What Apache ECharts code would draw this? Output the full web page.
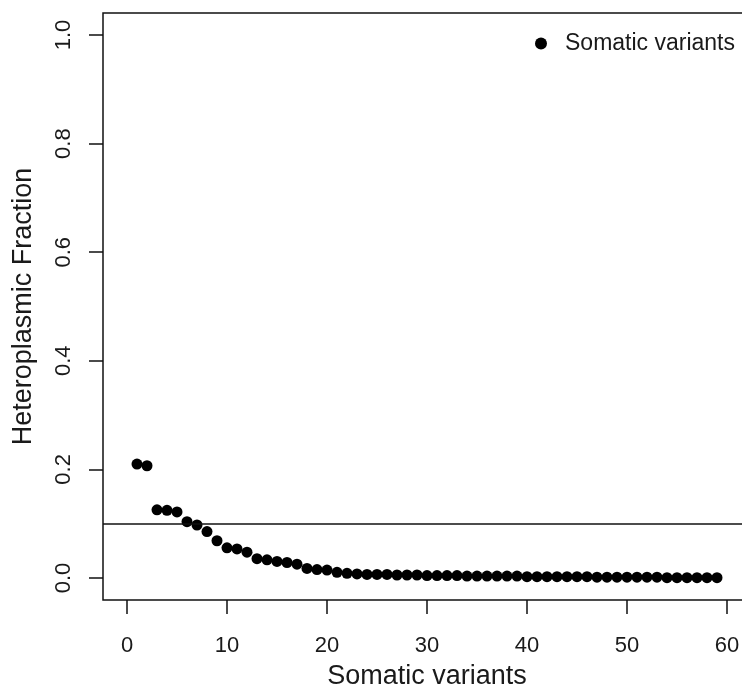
<!DOCTYPE html>
<html>
<head>
<meta charset="utf-8">
<script src="https://cdn.jsdelivr.net/npm/echarts@6/dist/echarts.min.js"></script>
<style>html,body{margin:0;padding:0;background:#fff;}#c{width:742px;height:692px;}</style>
</head>
<body>
<div id="c"></div>
<script>
const variantIndex = [1,2,3,4,5,6,7,8,9,10,11,12,13,14,15,16,17,18,19,20,21,22,23,24,25,26,27,28,29,30,31,32,33,34,35,36,37,38,39,40,41,42,43,44,45,46,47,48,49,50,51,52,53,54,55,56,57,58,59];
const heteroplasmicFraction = [0.210,0.207,0.126,0.125,0.122,0.104,0.098,0.086,0.069,0.056,0.054,0.048,0.036,0.034,0.031,0.029,0.026,0.018,0.016,0.015,0.011,0.009,0.008,0.007,0.007,0.007,0.006,0.006,0.006,0.005,0.005,0.005,0.005,0.004,0.004,0.004,0.004,0.004,0.004,0.003,0.003,0.003,0.003,0.003,0.003,0.003,0.002,0.002,0.002,0.002,0.002,0.002,0.002,0.001,0.001,0.001,0.001,0.001,0.001];
const xTickMin = 0, xTickMax = 60, xTickStep = 10;
const yTickMin = 0, yTickMax = 1, yTickStep = 0.2;
const threshold = 0.1;
const seriesName = 'Somatic variants';
const xTitle = 'Somatic variants';
const yTitle = 'Heteroplasmic Fraction';

const chart = echarts.init(document.getElementById('c'), null, {renderer:'canvas'});
const font = 'Liberation Sans, Arial, sans-serif';
const txt = '#1a1a1a';
const ink = '#111';
chart.setOption({
  animation: false,
  backgroundColor: '#fff',
  grid: [
    {left: 103, top: 13, width: 648, height: 587, show: true, borderColor: ink, borderWidth: 1.5, backgroundColor: 'transparent', containLabel: false, outerBoundsMode: 'none'},
    {left: 127, top: 35, width: 600, height: 543, show: false, containLabel: false, outerBoundsMode: 'none'}
  ],
  legend: {
    data: [seriesName], left: 530, top: 27, icon: 'circle', itemWidth: 12, itemHeight: 12,
    textStyle: {fontFamily: font, fontSize: 23, color: txt, padding: [0,0,0,13]}
  },
  xAxis: [
    {
      gridIndex: 0, type: 'value', min: -2.4, max: 62.4,
      axisLine: {show: false}, axisTick: {show: false}, axisLabel: {show: false}, splitLine: {show: false}
    },
    {
      gridIndex: 1, type: 'value', min: xTickMin, max: xTickMax, interval: xTickStep, offset: 22, position: 'bottom',
      name: xTitle, nameLocation: 'middle', nameGap: 63,
      nameTextStyle: {fontFamily: font, fontSize: 27, color: txt},
      axisLine: {show: false, onZero: false},
      axisTick: {show: true, inside: false, length: 14, lineStyle: {color: ink, width: 1.5}},
      axisLabel: {show: true, margin: 35, fontFamily: font, fontSize: 22, color: txt, showMinLabel: true, showMaxLabel: true},
      splitLine: {show: false}
    }
  ],
  yAxis: [
    {
      gridIndex: 0, type: 'value', min: -0.04, max: 1.04,
      axisLine: {show: false}, axisTick: {show: false}, axisLabel: {show: false}, splitLine: {show: false}
    },
    {
      gridIndex: 1, type: 'value', min: yTickMin, max: yTickMax, interval: yTickStep, offset: 24, position: 'left',
      name: yTitle, nameLocation: 'middle', nameGap: 66,
      nameTextStyle: {fontFamily: font, fontSize: 27, color: txt},
      axisLine: {show: false, onZero: false},
      axisTick: {show: true, inside: false, length: 14, lineStyle: {color: ink, width: 1.5}},
      axisLabel: {show: true, rotate: 90, margin: 28, fontFamily: font, fontSize: 22, color: txt, showMinLabel: true, showMaxLabel: true, formatter: v => v.toFixed(1)},
      splitLine: {show: false}
    }
  ],
  series: [{
    name: seriesName, type: 'scatter', xAxisIndex: 0, yAxisIndex: 0, symbol: 'circle', symbolSize: 11,
    itemStyle: {color: '#000', opacity: 1},
    data: variantIndex.map((x, i) => [x, heteroplasmicFraction[i]]),
    markLine: {
      silent: true, symbol: ['none','none'], label: {show: false},
      lineStyle: {color: ink, width: 1.5, type: 'solid'},
      data: [{yAxis: threshold}]
    }
  }]
});
</script>
</body>
</html>
